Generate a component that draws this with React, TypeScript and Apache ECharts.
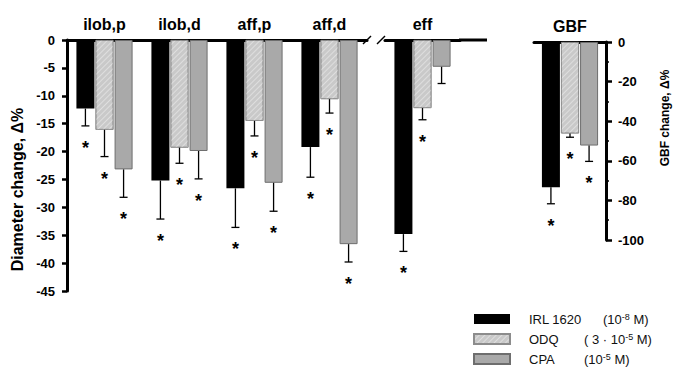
import React, { useEffect, useRef } from 'react';
import * as echarts from 'echarts';

// ---- data ----
const diamCategories = ['ilob,p', 'ilob,d', 'aff,p', 'aff,d'];
const effCategories = ['eff'];
const gbfCategories = ['GBF'];
const treatments = ['IRL 1620', 'ODQ', 'CPA'];
const concPrefix = ['(10', '( 3 · 10', '(10'];
const concExp = ['-8', '-5', '-5'];
const concUnit = [' M)', ' M)', ' M)'];

// diameter change (%), mean and lower error end
const irlMean = [-12.3, -25.2, -26.6, -19.2];
const irlErr = [-15.4, -32.1, -33.6, -24.6];
const irlSig = [1, 1, 1, 1];
const odqMean = [-16.1, -19.3, -14.5, -10.6];
const odqErr = [-20.9, -22.1, -17.2, -13.1];
const odqSig = [1, 1, 1, 1];
const cpaMean = [-23.2, -19.9, -25.6, -36.6];
const cpaErr = [-28.2, -24.9, -30.7, -39.8];
const cpaSig = [1, 1, 1, 1];

// eff (IRL, ODQ, CPA)
const effMean = [-34.8, -12.2, -4.8];
const effErr = [-37.9, -14.3, -7.8];
const effSig = [1, 1, 0];

// GBF change (%) (IRL, ODQ, CPA)
const gbfMean = [-73.3, -46.2, -52.3];
const gbfErr = [-81.7, -48.1, -60.3];
const gbfSig = [1, 1, 1];

const diamMin = -45;
const diamMax = 0;
const diamInterval = 5;
const gbfMin = -100;
const gbfMax = 0;
const gbfInterval = 20;

const FONT = '"Liberation Sans", Arial, sans-serif';
const BAR_W = 18;
const BAR_GAP = 0.06;

const barStyles: any[] = [
  { color: '#000000' },
  {
    color: '#c9c9c9',
    borderColor: '#8c8c8c',
    borderWidth: 0.8,
    decal: {
      symbol: 'rect',
      symbolSize: 1,
      dashArrayX: [1, 0],
      dashArrayY: [1, 2.5],
      rotation: -Math.PI / 4,
      color: '#dedede',
    },
  },
  { color: '#a9a9a9', borderColor: '#6e6e6e', borderWidth: 1 },
];

function makeErrRender(t: number) {
  const off = (t - 1) * BAR_W * (1 + BAR_GAP);
  return (params: any, api: any) => {
    const i = api.value(0);
    const m = api.value(1);
    const e = api.value(2);
    const s = api.value(3);
    const p0 = api.coord([i, m]);
    const p1 = api.coord([i, e]);
    const x = p0[0] + off;
    const children: any[] = [
      { type: 'line', shape: { x1: x, y1: p0[1], x2: x, y2: p1[1] }, style: { stroke: '#000', lineWidth: 1.3 } },
      { type: 'line', shape: { x1: x - 4, y1: p1[1], x2: x + 4, y2: p1[1] }, style: { stroke: '#000', lineWidth: 1.3 } },
    ];
    if (s) {
      children.push({
        type: 'text',
        x: x,
        y: p1[1] + 13,
        style: { text: '*', fontSize: 18, fontFamily: FONT, fontWeight: 'bold', fill: '#000', align: 'center', verticalAlign: 'top' },
      });
    }
    return { type: 'group', children };
  };
}

function buildSeries(gridIdx: number, means: number[][], errs: number[][], sigs: number[][]) {
  const out: any[] = [];
  for (let t = 0; t < 3; t++) {
    out.push({
      name: treatments[t],
      type: 'bar',
      xAxisIndex: gridIdx,
      yAxisIndex: gridIdx,
      data: means[t],
      barWidth: BAR_W,
      barGap: BAR_GAP * 100 + '%',
      itemStyle: barStyles[t],
      silent: true,
    });
  }
  for (let t = 0; t < 3; t++) {
    out.push({
      type: 'custom',
      xAxisIndex: gridIdx,
      yAxisIndex: gridIdx,
      data: means[t].map((m, i) => [i, m, errs[t][i], sigs[t][i]]),
      encode: { x: 0, y: [1, 2] },
      renderItem: makeErrRender(t),
      silent: true,
      z: 3,
    });
  }
  return out;
}

const topXAxis = (gridIndex: number, data: string[]) => ({
  type: 'category',
  gridIndex,
  data,
  position: 'top',
  axisLine: { show: true, lineStyle: { color: '#000', width: 3 } },
  axisTick: { show: false },
  axisLabel: { fontFamily: FONT, fontSize: 16, fontWeight: 'bold', color: '#000', margin: 8 },
  splitLine: { show: false },
});

export default function App() {
  const ref = useRef<HTMLDivElement>(null);
  useEffect(() => {
    if (!ref.current) return;
    const chart = echarts.init(ref.current, undefined, { renderer: 'svg' });
    const effByT = effMean.map((v) => [v]);
    const effErrByT = effErr.map((v) => [v]);
    const effSigByT = effSig.map((v) => [v]);
    const gbfByT = gbfMean.map((v) => [v]);
    const gbfErrByT = gbfErr.map((v) => [v]);
    const gbfSigByT = gbfSig.map((v) => [v]);

    const legendText = { fontFamily: FONT, fontSize: 13, color: '#111', lineHeight: 14 };

    const option: any = {
      animation: false,
      textStyle: { fontFamily: FONT },
      grid: [
        { left: 67, top: 40, width: 300, height: 251 },
        { left: 385, top: 40, width: 75, height: 251 },
        { left: 534, top: 42, width: 72, height: 198 },
      ],
      xAxis: [topXAxis(0, diamCategories), topXAxis(1, effCategories), topXAxis(2, gbfCategories)],
      yAxis: [
        {
          type: 'value',
          gridIndex: 0,
          min: diamMin,
          max: diamMax,
          interval: diamInterval,
          axisLine: { show: true, lineStyle: { color: '#000', width: 3 } },
          axisTick: { show: true, length: 5, lineStyle: { color: '#000', width: 2.5 } },
          axisLabel: { fontFamily: FONT, fontSize: 13, fontWeight: 'bold', color: '#000', margin: 12 },
          splitLine: { show: false },
          name: 'Diameter change, Δ%',
          nameLocation: 'middle',
          nameRotate: 90,
          nameGap: 42,
          nameTextStyle: { fontFamily: FONT, fontSize: 16, fontWeight: 'bold', color: '#000', padding: [0, 48, 0, 0] },
        },
        {
          type: 'value',
          gridIndex: 1,
          min: diamMin,
          max: diamMax,
          interval: diamInterval,
          show: false,
        },
        {
          type: 'value',
          gridIndex: 2,
          position: 'right',
          min: gbfMin,
          max: gbfMax,
          interval: gbfInterval,
          axisLine: { show: true, lineStyle: { color: '#000', width: 3 } },
          axisTick: { show: true, length: 6, lineStyle: { color: '#000', width: 2.5 } },
          minorTick: { show: true, splitNumber: 2, length: 3, lineStyle: { color: '#000', width: 1.5 } },
          axisLabel: { fontFamily: FONT, fontSize: 13, fontWeight: 'bold', color: '#000', margin: 12 },
          splitLine: { show: false },
          minorSplitLine: { show: false },
          name: 'GBF change, Δ%',
          nameLocation: 'middle',
          nameRotate: 90,
          nameGap: 53,
          nameTextStyle: { fontFamily: FONT, fontSize: 12, fontWeight: 'bold', color: '#000', padding: [0, 0, 0, 46] },
        },
      ],
      legend: {
        data: treatments,
        orient: 'vertical',
        left: 473,
        top: 312,
        padding: 0,
        itemWidth: 36,
        itemHeight: 10,
        itemGap: 6,
        icon: 'rect',
        selectedMode: false,
        formatter: (name: string) => {
          const t = treatments.indexOf(name);
          const key = t === 0 ? 'n1' : 'n2';
          return `{${key}|${name}}{c|${concPrefix[t]}}{s|${concExp[t]}}{c|${concUnit[t]}}`;
        },
        textStyle: {
          ...legendText,
          rich: {
            n1: { ...legendText, width: 74, padding: [0, 0, 0, 14] },
            n2: { ...legendText, width: 55, padding: [0, 0, 0, 14] },
            c: { ...legendText },
            s: { fontFamily: FONT, fontSize: 9, color: '#111', lineHeight: 14, verticalAlign: 'top' },
          },
        },
      },
      graphic: [
        { type: 'line', shape: { x1: 459, y1: 40, x2: 487, y2: 40 }, style: { stroke: '#000', lineWidth: 3 } },
        { type: 'line', shape: { x1: 363, y1: 44, x2: 371, y2: 36 }, style: { stroke: '#000', lineWidth: 1.5 } },
        { type: 'line', shape: { x1: 377, y1: 44, x2: 385, y2: 36 }, style: { stroke: '#000', lineWidth: 1.5 } },
      ],
      series: [
        ...buildSeries(0, [irlMean, odqMean, cpaMean], [irlErr, odqErr, cpaErr], [irlSig, odqSig, cpaSig]),
        ...buildSeries(1, effByT, effErrByT, effSigByT),
        ...buildSeries(2, gbfByT, gbfErrByT, gbfSigByT),
      ],
    };
    chart.setOption(option);
    return () => chart.dispose();
  }, []);
  return <div ref={ref} style={{ position: 'fixed', left: 0, top: 0, width: 677, height: 373, background: '#fff' }} />;
}
